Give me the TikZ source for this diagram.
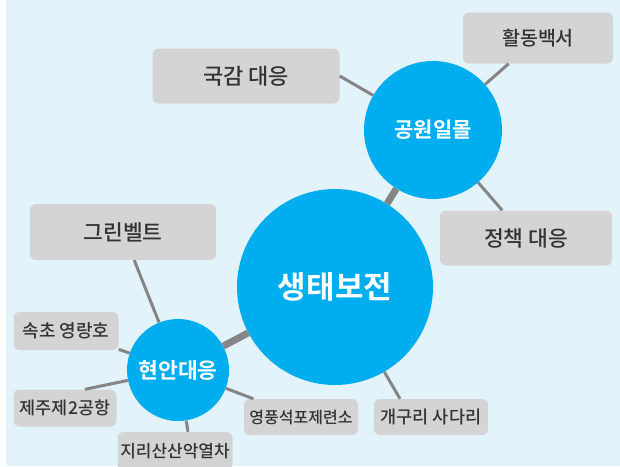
\documentclass[tikz,border=0pt]{standalone}
\usepackage{fontspec}
\setmainfont{Noto Sans CJK KR}[BoldFont={Noto Sans CJK KR Bold}]
\newfontfamily\tagfont{Noto Sans CJK KR Medium}
\definecolor{skyback}{HTML}{E3F3FC}
\definecolor{bubble}{HTML}{00AEEF}
\definecolor{tagfill}{HTML}{D4D4D4}
\definecolor{tagtext}{HTML}{333333}
\definecolor{spoke}{HTML}{858585}
\newcommand{\fsz}[1]{\fontsize{#1}{#1}\selectfont}
\begin{document}
\begin{tikzpicture}[x=1pt,y=-1pt,
	hub/.style={circle,fill=bubble,text=white,inner sep=0pt},
	tag/.style={rectangle,rounded corners=6pt,fill=tagfill,text=tagtext,inner sep=0pt},
	link/.style={draw=spoke,line width=3pt},
	trunk/.style={draw=spoke,line width=7pt}]
	\useasboundingbox (0,0) rectangle (620,466);
	\clip (0,0) rectangle (620,466);
	\fill[skyback] (6,0) rectangle (620,466);
	% circles
	\node[hub,minimum size=196pt,font=\bfseries\fsz{31}] (saengtae) at (335,287) {생태보전};
	\node[hub,minimum size=138pt,font=\bfseries\fsz{21}] (park) at (433,130) {공원일몰};
	\node[hub,minimum size=102pt,font=\bfseries\fsz{21.5}] (hyeonan) at (178,370) {현안대응};
	% boxes
	\node[tag,minimum width=150pt,minimum height=51pt,font=\tagfont\fsz{19.5}] (hwaldong) at (538,38) {활동백서};
	\node[tag,minimum width=187pt,minimum height=55pt,font=\tagfont\fsz{22}] (kukgam) at (246,76) {국감 대응};
	\node[tag,minimum width=172pt,minimum height=55pt,font=\tagfont\fsz{21.5}] (jeongchaek) at (526,238) {정책 대응};
	\node[tag,minimum width=186pt,minimum height=56pt,font=\tagfont\fsz{21.5}] (green) at (123,232) {그린벨트};
	\node[tag,minimum width=105pt,minimum height=38pt,font=\tagfont\fsz{18}] (sokcho) at (66,331) {속초 영랑호};
	\node[tag,minimum width=103pt,minimum height=37pt,font=\tagfont\fsz{17.5}] (jeju) at (65,408) {제주제2공항};
	\node[tag,minimum width=115pt,minimum height=38pt,font=\tagfont\fsz{17}] (jiri) at (175,451) {지리산산악열차};
	\node[tag,minimum width=114pt,minimum height=36pt,font=\tagfont\fsz{16}] (yeongpung) at (301,417) {영풍석포제련소};
	\node[tag,minimum width=114pt,minimum height=36pt,font=\tagfont\fsz{17.5}] (gaeguri) at (431,417) {개구리 사다리};
	% connectors
	\draw[trunk] (park) -- (saengtae);
	\draw[trunk] (hyeonan) -- (saengtae);
	\draw[link] (kukgam.east) -- (park);
	\draw[link] (hwaldong) -- (park);
	\draw[link] (jeongchaek) -- (park);
	\draw[link] (green) -- (hyeonan);
	\draw[link] (sokcho) -- (hyeonan);
	\draw[link] ([xshift=20pt]jeju.north) -- (hyeonan);
	\draw[link] ([xshift=13pt]jiri.north) -- (hyeonan);
	\draw[link] (yeongpung) -- (hyeonan);
	\draw[link] ([xshift=-31pt]gaeguri.north) -- (saengtae);
\end{tikzpicture}
\end{document}
